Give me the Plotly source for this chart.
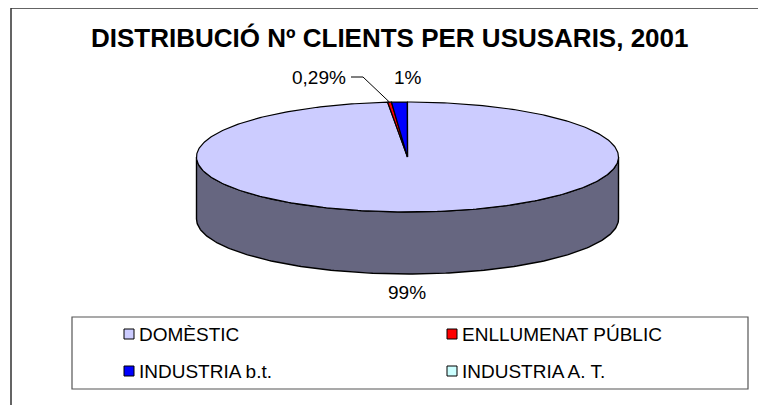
import numpy as np
import plotly.graph_objects as go

# ---- data ----
categories = ["DOMÈSTIC", "ENLLUMENAT PÚBLIC", "INDUSTRIA b.t.", "INDUSTRIA A. T."]
values = [98.5, 0.29, 1.2, 0.01]
value_labels = ["99%", "0,29%", "1%", ""]
title_text = "DISTRIBUCIÓ Nº CLIENTS PER USUSARIS, 2001"

# ---- style ----
top_colors = ["#CCCCFF", "#FF0000", "#0000FF", "#CCFFFF"]
side_colors = ["#666680", "#800000", "#000080", "#668080"]
W, H = 766, 405
PAD = 8  # page body margin
cx, cy, rx, ry, depth = 407.5, 157.0, 211.0, 55.0, 62.0
FONT = "Liberation Sans, Arial, sans-serif"

fig = go.Figure()

fr = np.array(values) / np.sum(values)
cum = np.concatenate([[0], np.cumsum(fr)])
starts = np.pi / 2 - 2 * np.pi * cum[:-1]   # clockwise from 12 o'clock
ends = np.pi / 2 - 2 * np.pi * cum[1:]


def ex(t):
    return cx + rx * np.cos(t)


def ey(t, off=0.0):
    return cy - ry * np.sin(t) + off


# side walls (front half: sin(theta) < 0)
for i in range(len(values)):
    a_hi, a_lo = starts[i], ends[i]
    for k in range(0, 3):
        lo = max(a_lo, -np.pi - 2 * np.pi * k)
        hi = min(a_hi, -2 * np.pi * k)
        if hi - lo > 1e-6:
            t = np.linspace(hi, lo, 200)
            xs = np.concatenate([ex(t), ex(t[::-1])])
            ys = np.concatenate([ey(t), ey(t[::-1], depth)])
            xs = np.append(xs, xs[0])
            ys = np.append(ys, ys[0])
            fig.add_trace(go.Scatter(x=xs, y=ys, mode="lines", fill="toself",
                                     fillcolor=side_colors[i],
                                     line=dict(color="black", width=1.4),
                                     hoverinfo="skip", showlegend=False))

# top faces
for i in range(len(values)):
    n = max(4, int(400 * fr[i]))
    t = np.linspace(starts[i], ends[i], n)
    xs = np.concatenate([[cx], ex(t), [cx]])
    ys = np.concatenate([[cy], ey(t), [cy]])
    fig.add_trace(go.Scatter(x=xs, y=ys, mode="lines", fill="toself",
                             fillcolor=top_colors[i],
                             line=dict(color="black", width=1.2),
                             hoverinfo="skip", showlegend=False))

# leader line for small red slice
mid_red = (starts[1] + ends[1]) / 2
fig.add_trace(go.Scatter(x=[351, 363, ex(mid_red)], y=[77, 77, ey(mid_red)],
                         mode="lines", line=dict(color="black", width=1),
                         hoverinfo="skip", showlegend=False))

annotations = []
# data labels
label_pos = [(407, 292, "center"), (348, 77, "right"), (408, 77, "center")]
for i, (lx, ly, anc) in enumerate(label_pos):
    annotations.append(dict(x=lx, y=ly, xref="x", yref="y", text=value_labels[i],
                            showarrow=False, xanchor=anc, yanchor="middle",
                            font=dict(family=FONT, size=19, color="black")))

# title
annotations.append(dict(x=390, y=38, xref="x", yref="y", text="<b>" + title_text + "</b>",
                        showarrow=False, xanchor="center", yanchor="middle",
                        font=dict(family=FONT, size=26, color="black")))

# custom legend (2 columns)
leg_pos = [(129, 334), (452, 334), (129, 371), (452, 371)]
for i, (lx, ly) in enumerate(leg_pos):
    fig.add_trace(go.Scatter(x=[lx], y=[ly], mode="markers",
                             marker=dict(symbol="square", size=10, color=top_colors[i],
                                         line=dict(color="black", width=1)),
                             hoverinfo="skip", showlegend=False))
    annotations.append(dict(x=lx + 8, y=ly, xref="x", yref="y", text=categories[i],
                            showarrow=False, xanchor="left", yanchor="middle",
                            font=dict(family=FONT, size=19, color="black")))

shapes = [
    # outer chart frame (left and top visible)
    dict(type="line", xref="x", yref="y", x0=11, y0=8, x1=11, y1=410,
         line=dict(color="#303030", width=1.5)),
    dict(type="line", xref="x", yref="y", x0=11, y0=8, x1=770, y1=8,
         line=dict(color="#303030", width=1.5)),
    # legend box
    dict(type="rect", xref="x", yref="y", x0=72, y0=317, x1=748, y1=389,
         line=dict(color="#555555", width=1.2), fillcolor="rgba(0,0,0,0)"),
]

fig.update_layout(
    width=W - PAD, height=H - PAD,
    margin=dict(l=0, r=0, t=0, b=0),
    paper_bgcolor="white", plot_bgcolor="white",
    xaxis=dict(range=[PAD, W], visible=False, fixedrange=True),
    yaxis=dict(range=[H, PAD], visible=False, fixedrange=True),
    annotations=annotations,
    shapes=shapes,
    showlegend=False,
)

fig.write_html("out.html")
